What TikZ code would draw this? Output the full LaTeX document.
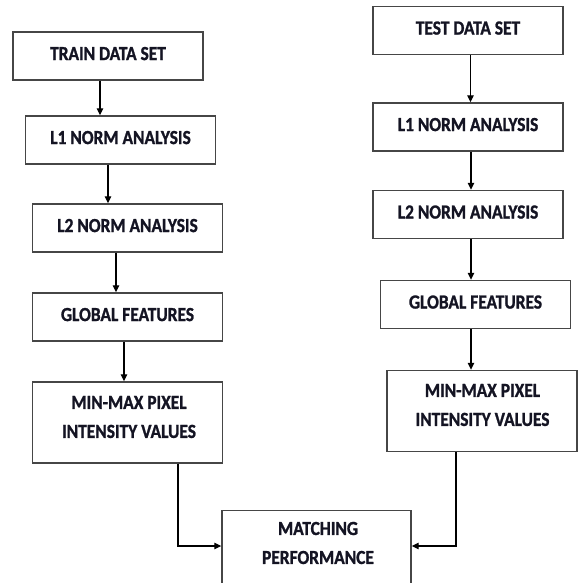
\documentclass[tikz,border=0pt]{standalone}
\usepackage{fontspec}
\setmainfont{Carlito}[FakeStretch=0.87,BoldFeatures={FakeBold=1.2}]
\definecolor{boxgray}{RGB}{70,70,70}
\definecolor{inkblack}{RGB}{20,20,35}
\usetikzlibrary{arrows.meta,positioning,calc}

\begin{document}
\begin{tikzpicture}[
  x=1pt, y=-1pt,
  every node/.style={font=\fontsize{20}{29}\selectfont\bfseries,text=inkblack},
  stagebox/.style={draw=boxgray,line width=1.4pt,minimum width=190pt,minimum height=48pt,
                   inner sep=0pt,text depth=5pt},
  tallbox/.style={draw=boxgray,line width=1.4pt,minimum width=190pt,minimum height=81pt,inner sep=0pt},
  flow/.style={-{Triangle[length=7pt,width=6.5pt]},line width=1.1pt,black},
]
  \useasboundingbox (0,0) rectangle (578,583);
  \clip (0,0) rectangle (578,583);

  % Training branch
  \node[stagebox] (trainset) at (108,56)    {TRAIN DATA SET};
  \node[stagebox] (trainl1)  at (120.5,140) {L1 NORM ANALYSIS};
  \node[stagebox] (trainl2)  at (127.5,228) {L2 NORM ANALYSIS};
  \node[stagebox] (trainglb) at (127.5,317) {GLOBAL FEATURES};
  \node[tallbox]  (trainmm)  at (127.5,422.5) {};
  \node[align=center] (trainmmtxt) at (129,417) {MIN-MAX PIXEL\\INTENSITY VALUES};

  % Testing branch
  \node[stagebox] (testset) at (468,30.5)  {TEST DATA SET};
  \node[stagebox] (testl1)  at (468,127)   {L1 NORM ANALYSIS};
  \node[stagebox] (testl2)  at (468,214.5) {L2 NORM ANALYSIS};
  \node[stagebox] (testglb) at (475.5,304.5) {GLOBAL FEATURES};
  \node[tallbox]  (testmm)  at (482,411)   {};
  \node[align=center] (testmmtxt) at (482.5,405) {MIN-MAX PIXEL\\INTENSITY VALUES};

  % Matching stage
  \node[tallbox,minimum width=189pt,minimum height=100pt,anchor=north] (match) at (316.5,510) {};
  \node[align=center] (matchtxt) at (318,543) {MATCHING\\PERFORMANCE};

  % Arrows, training side
  \draw[flow] ([xshift=-8pt]trainset.south) -- ([xshift=-8pt]trainset.south |- trainl1.north);
  \draw[flow] ([xshift=-12.5pt]trainl1.south) -- ([xshift=-12.5pt]trainl1.south |- trainl2.north);
  \draw[flow] ([xshift=-11.5pt]trainl2.south) -- ([xshift=-11.5pt]trainl2.south |- trainglb.north);
  \draw[flow] ([xshift=-3.5pt]trainglb.south) -- ([xshift=-3.5pt]trainglb.south |- trainmm.north);

  % Arrows, testing side
  \draw[flow] ([xshift=2.5pt]testset.south) -- ([xshift=2.5pt]testset.south |- testl1.north);
  \draw[flow] ([xshift=3pt]testl1.south) -- ([xshift=3pt]testl1.south |- testl2.north);
  \draw[flow] ([xshift=3pt]testl2.south) -- ([xshift=3pt]testl2.south |- testglb.north);
  \draw[flow] ([xshift=-4.5pt]testglb.south) -- ([xshift=-4.5pt]testglb.south |- testmm.north);

  % Both branches into matching
  \draw[flow] ([xshift=50.5pt]trainmm.south) |- ([yshift=-36pt]match.north west);
  \draw[flow] ([xshift=-26pt]testmm.south) |- ([yshift=-36pt]match.north east);
\end{tikzpicture}
\end{document}
